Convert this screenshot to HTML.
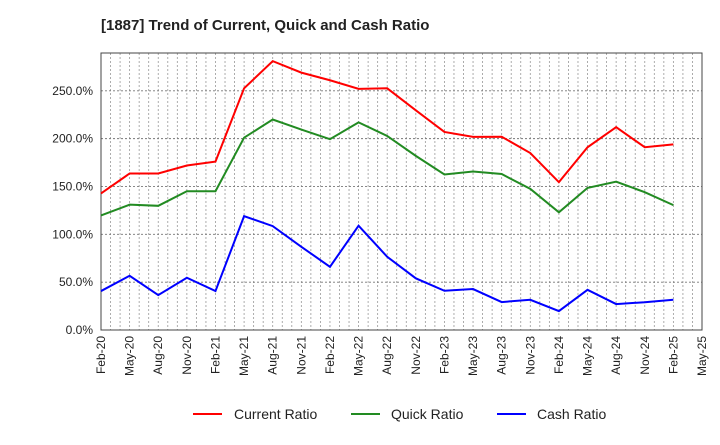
<!DOCTYPE html>
<html><head><meta charset="utf-8"><style>
body{margin:0;background:#fff;font-family:"Liberation Sans",Arial,sans-serif}
svg text{font-family:"Liberation Sans",Arial,sans-serif}
</style></head><body>
<svg id="c" width="720" height="440" xmlns="http://www.w3.org/2000/svg">
<text x="101" y="30" font-size="15" font-weight="bold" fill="#222">[1887]  Trend of Current, Quick and Cash Ratio</text>
<g id="grid"></g><g id="axes"></g><g id="series"></g>
<g>
<line x1="193" y1="414" x2="222" y2="414" stroke="#ff0000" stroke-width="2"/>
<text x="234" y="419" font-size="14" fill="#222">Current Ratio</text>
<line x1="351" y1="414" x2="380" y2="414" stroke="#228b22" stroke-width="2"/>
<text x="391" y="419" font-size="14" fill="#222">Quick Ratio</text>
<line x1="497" y1="414" x2="526" y2="414" stroke="#0000ff" stroke-width="2"/>
<text x="537" y="419" font-size="14" fill="#222">Cash Ratio</text>
</g>
</svg>
<script>
const xLabels=["Feb-20","May-20","Aug-20","Nov-20","Feb-21","May-21","Aug-21","Nov-21","Feb-22","May-22","Aug-22","Nov-22","Feb-23","May-23","Aug-23","Nov-23","Feb-24","May-24","Aug-24","Nov-24","Feb-25","May-25"];
const yTicks=[0,50,100,150,200,250];
const currentRatio=[142.7,163.6,163.6,171.9,176,252.6,281,269,261,252,252.6,229.6,207,201.8,202,185,154.5,191,212,191,194];
const quickRatio=[119.7,131,129.8,145,145,201,220,209.5,199.4,217,202.8,182,162.5,165.6,163,147.5,123,148.5,155,144,130.5];
const cashRatio=[40.7,56.7,36.5,54.6,40.7,119,108.6,87,66,109,76.5,54,41,42.8,29.2,31.6,19.8,42,27.1,29,31.6];
const L=101,R=702,T=53,B=330,YMAX=289.5;
const NS="http://www.w3.org/2000/svg";
const xs=i=>L+i*(R-L)/(xLabels.length-1);
const ys=v=>B-v/YMAX*(B-T);
function mk(t,a,p){const e=document.createElementNS(NS,t);for(const k in a)e.setAttribute(k,a[k]);p.appendChild(e);return e;}
const grid=document.getElementById('grid'),axes=document.getElementById('axes'),ser=document.getElementById('series');
for(let m=1;m<(xLabels.length-1)*3;m++){const x=L+m*(R-L)/((xLabels.length-1)*3);
const g=mk('line',{x1:x,x2:x,y1:T,y2:B,stroke:'#999','stroke-dasharray':'2,2','stroke-width':0.8},grid);

}
yTicks.forEach(v=>{const y=ys(v);
if(v>0){const g=mk('line',{x1:L,x2:R,y1:y,y2:y,stroke:'#777','stroke-dasharray':'2,2','stroke-width':0.9},grid);

}
const t=mk('text',{x:L-8,y:y+4,'font-size':12,'text-anchor':'end',fill:'#222'},axes);t.textContent=v.toFixed(1)+'%';

});
xLabels.forEach((s,i)=>{const x=xs(i);
const t=mk('text',{x:0,y:0,'font-size':12,'text-anchor':'end',fill:'#222',transform:`translate(${x+4},${B+6}) rotate(-90)`},axes);t.textContent=s;

});
const fr=mk('rect',{x:L,y:T,width:R-L,height:B-T,fill:'none',stroke:'#444','stroke-width':1},axes);


[[currentRatio,'#ff0000','current-ratio-line'],[quickRatio,'#228b22','quick-ratio-line'],[cashRatio,'#0000ff','cash-ratio-line']].forEach(([d,c,n])=>{
const p=mk('polyline',{points:d.map((v,i)=>xs(i)+','+ys(v)).join(' '),fill:'none',stroke:c,'stroke-width':2},ser);

});
</script>
</body></html>
